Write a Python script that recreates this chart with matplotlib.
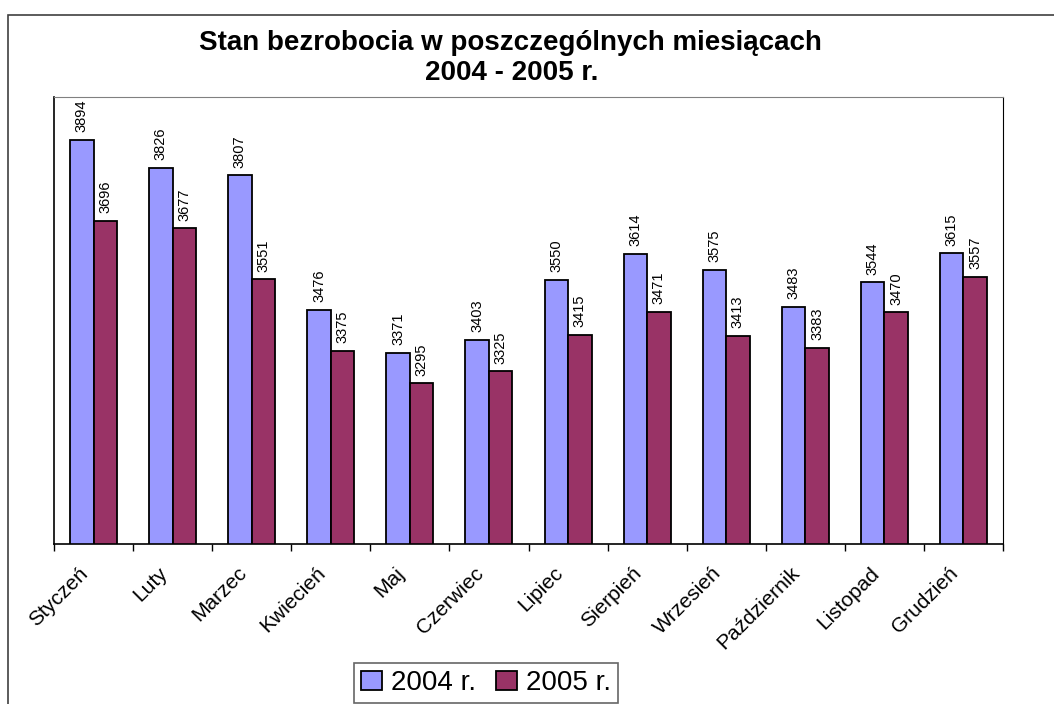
import matplotlib
matplotlib.use("Agg")
import matplotlib.pyplot as plt
import matplotlib.patches as mpatches
import matplotlib.transforms as mtransforms
import numpy as np

plt.rcParams["font.family"] = ["Liberation Sans", "DejaVu Sans"]

months = ["Styczeń", "Luty", "Marzec", "Kwiecień", "Maj", "Czerwiec",
          "Lipiec", "Sierpień", "Wrzesień", "Październik", "Listopad", "Grudzień"]
vals_2004 = [3894, 3826, 3807, 3476, 3371, 3403, 3550, 3614, 3575, 3483, 3544, 3615]
vals_2005 = [3696, 3677, 3551, 3375, 3295, 3325, 3415, 3471, 3413, 3383, 3470, 3557]
series_names = ["2004 r.", "2005 r."]

BLUE = "#9999FF"
MAROON = "#993366"

W, H = 1054, 704
fig = plt.figure(figsize=(W / 100, H / 100), dpi=100, facecolor="white")

# outer chart border (runs off the right/bottom edge like the source)
fig.add_artist(mpatches.Rectangle((8 / W, -0.05), 1.1, 1 - 15 / H + 0.05,
                                  transform=fig.transFigure, fill=False,
                                  edgecolor="#404040", linewidth=1.2))

ax = fig.add_axes([54 / W, 1 - 544 / H, (1003 - 54) / W, (544 - 97) / H])
x = np.arange(len(months))
bw = 0.297
b1 = ax.bar(x - bw / 2, vals_2004, bw, color=BLUE, edgecolor="black",
            linewidth=1.3, label=series_names[0])
b2 = ax.bar(x + bw / 2, vals_2005, bw, color=MAROON, edgecolor="black",
            linewidth=1.3, label=series_names[1])

for bars, vals in ((b1, vals_2004), (b2, vals_2005)):
    for rect, v in zip(bars, vals):
        ax.annotate(f"{v}", (rect.get_x() + rect.get_width() / 2, v),
                    xytext=(0, 5.5), textcoords="offset points",
                    rotation=90, ha="center", va="bottom", fontsize=10.5)

ax.set_ylim(2900, 4000)
ax.set_xlim(-0.5, len(months) - 0.5)
ax.set_yticks([])
ax.set_xticks(x)
ax.set_xticklabels(months, rotation=45, ha="right", rotation_mode="anchor",
                   fontsize=15)
ax.tick_params(axis="x", which="major", length=0, pad=14)
shift = mtransforms.ScaledTranslation(-15 / 100, 0, fig.dpi_scale_trans)
for lbl in ax.get_xticklabels():
    lbl.set_transform(lbl.get_transform() + shift)
ax.set_xticks(np.arange(-0.5, len(months)), minor=True)
ax.tick_params(axis="x", which="minor", length=5, width=1, direction="out")
for s in ("left", "bottom"):
    ax.spines[s].set_color("black")
    ax.spines[s].set_linewidth(1.2)
ax.spines["top"].set_color("#808080")
ax.spines["right"].set_color("black")

fig.text(510 / W, 1 - 43 / H, "Stan bezrobocia w poszczególnych miesiącach",
         ha="center", va="center", fontsize=20, fontweight="bold")
fig.text(512 / W, 1 - 73 / H, "2004 - 2005 r.",
         ha="center", va="center", fontsize=20, fontweight="bold")

leg = fig.legend(handles=[b1, b2], loc="center", bbox_to_anchor=(486 / W, 1 - 683 / H),
                 ncol=2, fontsize=20, frameon=True, fancybox=False,
                 handlelength=0.75, handleheight=0.7, handletextpad=0.35,
                 columnspacing=0.7, borderpad=0.25)
leg.get_frame().set_edgecolor("#404040")
leg.get_frame().set_linewidth(1.2)

fig.savefig("out.png", dpi=100, facecolor="white")
